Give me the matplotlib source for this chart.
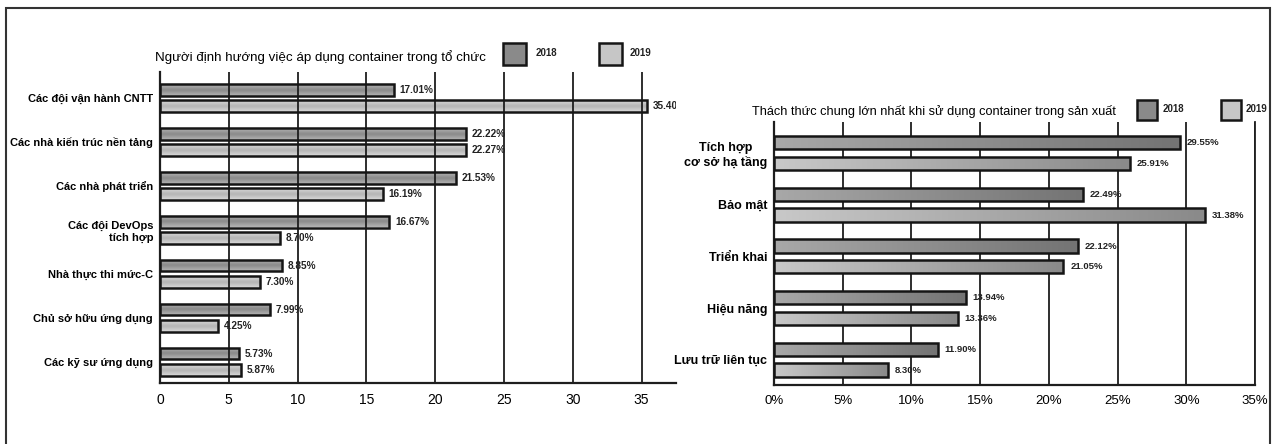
import numpy as np
import matplotlib.pyplot as plt
from matplotlib.patches import Rectangle
from matplotlib.colors import LinearSegmentedColormap

# --- Dados ---
# Biểu đồ trái: người định hướng việc áp dụng container
nhom_trai = ["Các đội vận hành CNTT", "Các nhà kiến trúc nền tảng", "Các nhà phát triển",
             "Các đội DevOps\ntích hợp", "Nhà thực thi mức-C", "Chủ sở hữu ứng dụng",
             "Các kỹ sư ứng dụng"]
trai_2018 = [17.01, 22.22, 21.53, 16.67, 8.85, 7.99, 5.73]
trai_2019 = [35.40, 22.27, 16.19, 8.70, 7.30, 4.25, 5.87]

# Biểu đồ phải: thách thức lớn nhất khi dùng container trong sản xuất
nhom_phai = ["Tích hợp\ncơ sở hạ tầng", "Bảo mật", "Triển khai", "Hiệu năng", "Lưu trữ liên tục"]
phai_2018 = [29.55, 22.49, 22.12, 13.94, 11.90]
phai_2019 = [25.91, 31.38, 21.05, 13.36, 8.30]

nam = ["2018", "2019"]
tieu_de_trai = "Người định hướng việc áp dụng container trong tổ chức"
tieu_de_phai = "Thách thức chung lớn nhất khi sử dụng container trong sản xuất"

ARIAL = ["Liberation Sans", "DejaVu Sans"]

W, H = 1273, 444
fig = plt.figure(figsize=(W / 100, H / 100), dpi=100)


def fx(px):
    return px / W


def fy(py):
    return 1 - py / H


def to_mau(ax, bars, c_dau, c_cuoi, doc=False):
    # tô gradient cho từng thanh
    cmap = LinearSegmentedColormap.from_list("g", [c_dau, c_cuoi])
    for b in bars:
        x0, y0 = b.get_x(), b.get_y()
        w, h = b.get_width(), b.get_height()
        if doc:
            grad = np.abs(np.linspace(-1, 1, 32)).reshape(-1, 1)
        else:
            grad = np.linspace(0, 1, 64).reshape(1, -1)
        im = ax.imshow(grad, extent=[x0, x0 + w, y0 + h, y0], aspect="auto",
                       cmap=cmap, vmin=0, vmax=1, zorder=2, interpolation="bicubic")
        im.set_clip_path(b)
        b.set_facecolor("none")


def ve_truc(ax, nhom, v18, v19, lech, cao, xmax, ylim, mau18, mau19, doc, nhan_fmt,
            co_nhan, co_tick, pad_nhan, cs_nhom, grid_tren):
    y = np.arange(len(nhom))
    b18 = ax.barh(y - lech, v18, height=cao, edgecolor="#151515", linewidth=1.8, zorder=3)
    b19 = ax.barh(y + lech, v19, height=cao, edgecolor="#151515", linewidth=1.8, zorder=3)
    to_mau(ax, b18, *mau18, doc=doc)
    to_mau(ax, b19, *mau19, doc=doc)
    # nhãn giá trị; nhãn vượt mép trục bị cắt (35.40%)
    for yy, v in list(zip(y - lech, v18)) + list(zip(y + lech, v19)):
        ax.annotate(nhan_fmt.format(v), (v, yy), xytext=(pad_nhan, 0), textcoords="offset points",
                    ha="left", va="center", fontsize=co_nhan, fontweight="bold",
                    family=ARIAL, color="#222222", clip_on=True, annotation_clip=False)
    ax.set_xlim(0, xmax)
    ax.set_ylim(*ylim)
    ax.set_yticks(y)
    ax.set_yticklabels(nhom, family=ARIAL, fontsize=cs_nhom, fontweight="bold",
                       multialignment="right" if doc else "center")
    ax.tick_params(axis="y", length=0, pad=5)
    ax.tick_params(axis="x", length=0, pad=7, labelsize=co_tick)
    for lbl in ax.get_xticklabels():
        lbl.set_family(ARIAL)
    ax.grid(axis="x", color="#1e1e1e", linewidth=1.3, zorder=4 if grid_tren else 1)
    ax.set_axisbelow(not grid_tren)
    ax.spines["top"].set_visible(False)
    for s in ("left", "bottom"):
        ax.spines[s].set_linewidth(1.6)
        ax.spines[s].set_color("#1e1e1e")


# ---- Biểu đồ trái ----
ax1 = fig.add_axes([fx(160), fy(383), fx(676) - fx(160), fy(72) - fy(383)])
ve_truc(ax1, nhom_trai, trai_2018, trai_2019, 0.19, 0.27, 37.5, (6.48, -0.59),
        ("#8a8a8a", "#b4b4b4"), ("#b4b4b4", "#dadada"), True, "{:.2f}%",
        7.2, 10, 4, 8.0, True)
ax1.set_xticks([0, 5, 10, 15, 20, 25, 30, 35])
ax1.spines["right"].set_visible(False)

# ---- Biểu đồ phải ----
ax2 = fig.add_axes([fx(774), fy(385), fx(1255) - fx(774), fy(122) - fy(385)])
ve_truc(ax2, nhom_phai, phai_2018, phai_2019, 0.2, 0.26, 35, (4.49, -0.6),
        ("#a8a8a8", "#747474"), ("#c8c8c8", "#8a8a8a"), False, "{:.2f}%",
        6.8, 9.5, 5, 9, False)
ax2.set_xticks([0, 5, 10, 15, 20, 25, 30, 35])
ax2.set_xticklabels([f"{t}%" for t in range(0, 40, 5)], family=ARIAL)
ax2.spines["right"].set_linewidth(1.3)
ax2.spines["right"].set_color("#1e1e1e")

# ---- tiêu đề và chú thích ----
fig.text(fx(155), fy(57), tieu_de_trai, family=ARIAL, fontsize=9.6, va="center", ha="left")
fig.text(fx(752), fy(112), tieu_de_phai, family=ARIAL, fontsize=9.2, va="center", ha="left")

chu_thich = [
    # (x hộp, y hộp, rộng, cao, x chữ)
    [(503, 43, 23, 22, 536), (599, 43, 23, 22, 630)],
    [(1137, 100, 20, 20, 1163), (1221, 100, 20, 20, 1246)],
]
mau_hop = ["#8a8a8a", "#c6c6c6"]
for bo in chu_thich:
    for (x, yb, w, h, xt), lab, m in zip(bo, nam, mau_hop):
        fig.patches.append(Rectangle((fx(x), fy(yb + h)), w / W, h / H, transform=fig.transFigure,
                                     facecolor=m, edgecolor="#151515", linewidth=1.8))
        fig.text(fx(xt), fy(yb + h / 2 - 1), lab, family=ARIAL, fontsize=7, fontweight="bold",
                 va="center", ha="left", color="#222222")

# khung ngoài
fig.patches.append(Rectangle((fx(6), -0.1), fx(1270) - fx(6), fy(8) + 0.1, transform=fig.transFigure,
                             fill=False, edgecolor="#333333", linewidth=1.5))

fig.savefig("out.png", dpi=100)
